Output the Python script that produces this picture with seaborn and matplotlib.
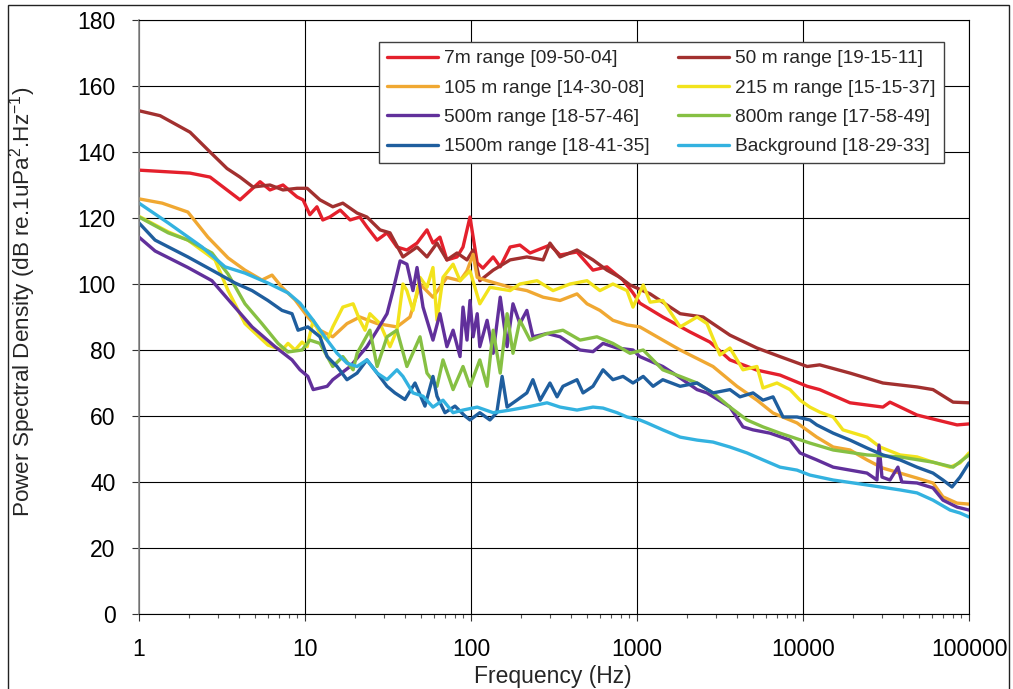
import numpy as np
import pandas as pd
import matplotlib
matplotlib.use('Agg')
import matplotlib.pyplot as plt
import seaborn as sns
from matplotlib.patches import Rectangle
from matplotlib.lines import Line2D
from matplotlib.ticker import FixedLocator, NullFormatter

sns.set_theme(style='white')
plt.rcParams['font.family'] = ['Liberation Sans', 'DejaVu Sans']
plt.rcParams['mathtext.fontset'] = 'custom'
plt.rcParams['mathtext.rm'] = 'Liberation Sans'
plt.rcParams['mathtext.it'] = 'Liberation Sans:italic'

# ---------------- data ----------------
labels = ['7m range [09-50-04]', '50 m range [19-15-11]', '105 m range [14-30-08]',
          '215 m range [15-15-37]', '500m range [18-57-46]', '800m range [17-58-49]',
          '1500m range [18-41-35]', 'Background [18-29-33]']
colors = ['#E4202C', '#A2302F', '#F0A832', '#F2E31C', '#61309B', '#86C043', '#1F5E9E', '#33B2E0']

f_7m = [1.0, 2.03, 2.68, 4.06, 5.36, 6.15, 7.37, 8.95, 9.73, 10.7, 11.8, 12.8, 14.1, 16.3, 18.7, 21.4, 23.6, 27.2,
        31.2, 35.8, 41.1, 47.3, 54.3, 59, 65, 71.6, 82.4, 89.5, 98.6, 109, 118, 136, 150, 172, 197, 227, 299, 344,
        435, 543, 659, 824, 946, 1040, 1430, 2080, 2750, 3630, 5280, 7270, 10600, 12600, 19200, 30300, 33400,
        48600, 64100, 84700, 100000]
v_7m = [134.5, 133.6, 132.4, 125.5, 131, 128.5, 130, 126.4, 125.5, 121, 123.4, 119.4, 120.3, 122.4, 119.4, 120.3,
        117.3, 113.3, 115.5, 111.2, 110.3, 112.4, 116.4, 112.4, 114.2, 107.3, 108.2, 111.2, 120.3, 106.4, 104.8,
        108.2, 105.2, 111.2, 111.8, 109.4, 111.8, 108.8, 109.7, 104.2, 105.2, 101.2, 97.3, 94.2, 90, 85.5, 82.4,
        77, 73.9, 72.4, 69, 68, 64, 62.7, 64.2, 60.3, 58.8, 57.3, 57.6]

f_50m = [1.0, 1.34, 2.03, 2.68, 3.39, 4.06, 4.86, 6.15, 7.37, 8.95, 10.3, 12.3, 14.7, 16.9, 20.6, 23.6, 28.3, 32.5,
         38.9, 47.3, 54.3, 62.4, 71.6, 82.4, 94.6, 103, 113, 136, 172, 217, 272, 299, 344, 435, 543, 659, 790, 908,
         1200, 1820, 2500, 3630, 5280, 7270, 10600, 12600, 19200, 30300, 48600, 60700, 80200, 100000]
v_50m = [152.5, 151, 146, 140, 135, 132.4, 129.4, 130, 128.5, 129, 129, 125.5, 123.4, 124.5, 121.5, 120.3, 116.4,
         115.5, 108.2, 111.2, 108.2, 112.4, 107.3, 109.4, 107.3, 110.3, 101, 104.2, 107.3, 108.2, 107.3, 112.4,
         108.2, 110.3, 107.3, 104.2, 102, 99.7, 97, 91, 90, 84.5, 80.6, 78, 75, 75.5, 73, 70, 68.8, 68, 64.2, 64]

f_105m = [1.0, 1.38, 1.97, 2.6, 3.44, 4.35, 5.5, 6.33, 7.27, 8.71, 10.4, 12.3, 14.7, 17.9, 21.4, 27.2, 35.8, 42.9,
          49.3, 59, 71.6, 85.9, 94.6, 103, 109, 125, 172, 217, 272, 344, 435, 500, 598, 716, 871, 1040, 1430, 1820,
          2870, 4000, 5280, 6600, 9200, 12100, 15200, 19200, 24300, 30300, 38400, 48600, 60700, 69700, 84700, 100000]
v_105m = [125.8, 124.5, 121.8, 114.2, 107.9, 104.2, 101.2, 102.7, 99, 95.2, 90, 86, 84, 88, 90, 88, 87, 90, 100, 96,
          102, 101, 104, 109, 102, 101, 99, 98, 96, 95, 97, 94, 92, 89, 87.6, 87, 83, 80, 75, 69, 64.8, 60.9, 57.9,
          53.6, 50.6, 49.7, 46.7, 44.2, 42.7, 41.2, 39.7, 35.5, 33.6, 33.3]

f_215m = [1.0, 1.5, 1.97, 2.87, 3.44, 4.35, 5.98, 7.27, 7.9, 8.71, 9.6, 10.3, 11.2, 12.3, 13.6, 14.7, 16.9, 19.5,
          21.4, 23.0, 24.6, 28.3, 32.5, 35.8, 38.9, 41.1, 44.7, 49.3, 54.3, 59, 62.4, 67.8, 78, 85.9, 98.6, 113, 130,
          172, 197, 250, 312, 395, 500, 598, 716, 871, 946, 1090, 1200, 1430, 1820, 2300, 2640, 3160, 3630, 4350,
          5280, 5740, 6970, 8350, 9600, 11000, 12600, 15200, 17400, 24300, 29100, 38400, 48600, 60700, 76900,
          88300, 100000]
v_215m = [120.5, 115.8, 113.3, 107.3, 98, 88, 81.5, 80, 82, 80, 82.4, 81, 89, 85, 83, 87, 93, 94, 89, 86, 91, 88, 81,
          86, 100, 98, 92, 102, 99, 105, 89, 102, 106, 101, 104, 94, 99, 98, 100, 101, 98, 100, 101, 98, 100, 98, 93,
          99.7, 94.5, 95, 87, 90, 88, 78.5, 80.6, 74, 75, 68.5, 70, 68, 64.8, 62.7, 61.2, 59.7, 55.8, 53.6, 50.6,
          48.2, 47.6, 46, 44.5, 45.8, 48.8]

f_500m = [1.0, 1.25, 1.97, 2.75, 3.63, 4.8, 6.6, 8.35, 9.33, 10.4, 11.2, 13.6, 14.7, 18.7, 23.6, 27.2, 31.2, 33.9,
          37.4, 41.1, 44.7, 47.3, 51.4, 59, 65, 71.6, 78, 85.9, 89.5, 94.6, 98.6, 103, 109, 113, 125, 136, 150, 165,
          179, 197, 217, 236, 287, 344, 395, 454, 543, 624, 758, 946, 1040, 1430, 1650, 2300, 2640, 3630, 4350, 5000,
          6330, 8350, 9600, 12100, 15200, 19200, 24300, 27900, 28700, 29900, 33400, 37300, 39400, 48600, 60700,
          69700, 84700, 100000]
v_500m = [114.2, 110, 105, 101, 94, 87, 81, 77, 74, 72, 68, 69, 71, 75, 81, 86, 91, 98, 107, 106, 98, 105, 93, 83, 91,
          81, 86, 78, 93, 83, 95, 84, 91, 81, 89, 79, 96, 81, 94, 88, 92, 84, 85, 84, 82, 80, 79.5, 82, 80.6, 80, 78,
          75, 73, 68, 67, 62.7, 56.7, 55.8, 54.8, 52.7, 48.8, 46.7, 44.5, 43.6, 42.7, 40.6, 51.2, 41.5, 40.6, 44.5,
          40, 39.7, 38.2, 34.5, 32.4, 31.5]

f_800m = [1.0, 1.5, 1.97, 2.75, 3.44, 4.35, 5.5, 6.88, 7.9, 9.6, 10.7, 12.3, 14.7, 16.9, 19.5, 20.6, 24.6, 27.2,
          31.2, 35.8, 41.1, 49.3, 54.3, 62.4, 67.8, 78, 89.5, 98.6, 113, 125, 136, 150, 165, 179, 197, 227, 287, 358,
          454, 574, 716, 908, 1090, 1430, 1820, 2300, 2870, 3630, 4600, 5740, 7270, 11000, 15200, 24300, 38400,
          60700, 80200, 100000]
v_800m = [120.3, 115.5, 113.3, 109.4, 103, 94, 88, 82, 79.4, 80, 83, 82, 75, 78, 74, 79, 86, 75, 84, 86, 75, 84, 73,
          69, 77, 68, 75, 69, 77, 69, 86, 73, 91, 79, 89, 83, 85, 86, 83, 84, 82, 79, 80, 74, 72, 70, 67, 62.7, 58.8,
          56.7, 54.8, 51.8, 49.7, 48.2, 47.6, 46, 44.5, 48.2]

f_1500m = [1.0, 1.25, 1.97, 2.75, 3.79, 4.8, 5.98, 7.27, 8.35, 9.08, 10.4, 12.3, 13.6, 15.6, 17.9, 20.6, 23.6, 27.2,
           31.2, 34.8, 40, 46, 52.8, 59, 62.4, 69.7, 80.1, 92, 98.6, 113, 130, 143, 154, 165, 189, 217, 236, 261,
           299, 330, 358, 435, 473, 543, 624, 716, 824, 946, 1090, 1250, 1430, 1820, 2300, 2870, 3630, 4170, 5000,
           5740, 6600, 7580, 9200, 11000, 12100, 15200, 19200, 24300, 30300, 38400, 48600, 60700, 69700, 79000,
           88300, 100000]
v_1500m = [118.5, 113.3, 108.2, 104.2, 100.3, 98, 95, 92, 91, 86, 87, 84, 78, 75, 71, 73, 77, 73, 69, 67, 65, 70, 63,
           72, 66, 61, 63, 60, 58.8, 61, 58.8, 61, 72, 62.7, 64.8, 67, 71, 64.8, 70, 65.8, 69, 71, 67, 69, 74, 71, 72,
           70, 72, 69, 71, 69, 70, 67, 68, 65.8, 67, 64.8, 65.8, 59.7, 59.7, 58.8, 57.3, 54.8, 52.7, 50.3, 48.2,
           46.7, 44.5, 42.7, 40.6, 38.5, 41.5, 45.8]

f_bg = [1.0, 1.5, 2.4, 3.3, 4.35, 5.98, 7.9, 9.33, 11.2, 13.6, 15.6, 17.9, 20.6, 23.6, 27.2, 31.2, 35.8, 38.9, 44.7,
        51.4, 59, 67.8, 78, 89.5, 109, 136, 172, 217, 287, 344, 435, 543, 624, 758, 871, 1040, 1150, 1430, 1820,
        2300, 2870, 3630, 4600, 5740, 7270, 9200, 11000, 15200, 24300, 38400, 48600, 60700, 76900, 88300, 100000]
v_bg = [124.5, 118.5, 111.2, 105.2, 103.3, 100.3, 97.3, 94.2, 89, 83, 79, 76, 75, 77, 73, 71, 74, 72, 67, 66, 62.7,
        64.8, 61, 61.8, 62.7, 61, 61.8, 62.7, 64, 62.7, 61.8, 62.7, 62.4, 61, 59.7, 58.8, 57.9, 55.8, 53.6, 52.7,
        52.1, 50.6, 48.8, 46.7, 44.5, 43.6, 42.1, 40.6, 39.1, 37.6, 36.7, 34.5, 31.5, 30.6, 29.4]

x_ticks = [1, 10, 100, 1000, 10000, 100000]
x_ticklabels = ['1', '10', '100', '1000', '10000', '100000']
y_ticks = list(range(0, 181, 20))

freqs = [f_7m, f_50m, f_105m, f_215m, f_500m, f_800m, f_1500m, f_bg]
vals = [v_7m, v_50m, v_105m, v_215m, v_500m, v_800m, v_1500m, v_bg]

df = pd.concat([pd.DataFrame({'freq': f, 'psd': v, 'series': lab})
                for lab, f, v in zip(labels, freqs, vals)], ignore_index=True)

# ---------------- figure ----------------
W, H = 1013, 689
fig = plt.figure(figsize=(W / 100, H / 100), dpi=100)
fig.patch.set_facecolor('white')
ax = fig.add_axes([139 / W, 1 - 614 / H, 830 / W, 594 / H])

sns.lineplot(data=df, x='freq', y='psd', hue='series', hue_order=labels, palette=colors,
             estimator=None, sort=False, linewidth=2.4, ax=ax, legend=False)

ax.set_xscale('log')
ax.set_xlim(1, 100000)
ax.set_ylim(0, 180)
ax.xaxis.set_major_locator(FixedLocator(x_ticks))
ax.set_xticklabels(x_ticklabels)
minor = [m * 10 ** e for e in range(0, 5) for m in range(2, 10)]
ax.xaxis.set_minor_locator(FixedLocator(minor))
ax.xaxis.set_minor_formatter(NullFormatter())
ax.set_yticks(y_ticks)
ax.set_xlabel('')
ax.set_ylabel('')

ax.grid(True, which='major', color='black', linewidth=0.8)
ax.set_axisbelow(True)
ax.tick_params(axis='both', which='major', direction='out', length=5, width=0.8, color='#333333',
               labelsize=16.5, pad=12, labelcolor='black')
ax.tick_params(axis='x', which='minor', direction='out', length=3, width=0.8, color='#555555', bottom=True)
ax.tick_params(axis='x', which='major', bottom=True)
ax.tick_params(axis='y', which='major', left=True)
for s in ['top', 'right', 'bottom']:
    ax.spines[s].set_color('black')
    ax.spines[s].set_linewidth(0.8)
ax.spines['left'].set_color('#8a8a8a')
ax.spines['left'].set_linewidth(1.2)

handles = [Line2D([0], [0], color=c, lw=2.4) for c in colors]
order = [0, 2, 4, 6, 1, 3, 5, 7]
leg = ax.legend([handles[i] for i in order], [labels[i] for i in order], ncol=2,
                loc='upper right', bbox_to_anchor=(0.9695, 0.963), borderaxespad=0,
                fontsize=13.8, frameon=True, fancybox=False, framealpha=1,
                edgecolor='#404040', handlelength=2.7, handletextpad=0.3,
                columnspacing=1.45, labelspacing=0.62, borderpad=0.42)
leg.get_frame().set_linewidth(1.0)

fig.text(23 / W, 1 - 302 / H, r'Power Spectral Density (dB re.1uPa$^{2}$.Hz$^{-1}$)',
         rotation=90, ha='center', va='center', fontsize=16.2)
fig.text(553 / W, 1 - 683 / H, 'Frequency (Hz)', ha='center', va='baseline', fontsize=16.5)

fig.patches.append(Rectangle((8 / W, -0.1), (1009 - 8) / W, 1.1 - 5 / H, transform=fig.transFigure,
                             fill=False, edgecolor='#222222', linewidth=1.0))

fig.savefig('out.png', dpi=100)
